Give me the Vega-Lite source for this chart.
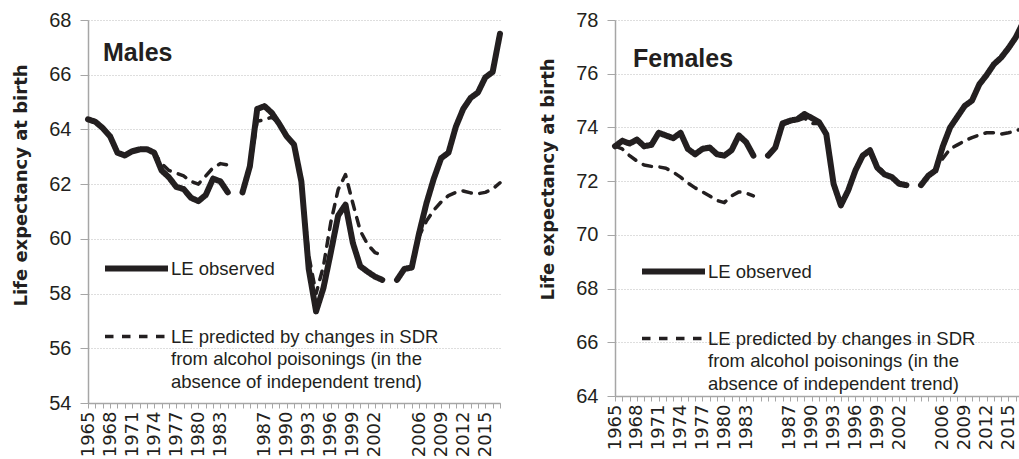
{
"$schema": "https://vega.github.io/schema/vega-lite/v6.json",
"background": "white",
"padding": {"left": 12, "top": 10, "right": 0, "bottom": 0},
"spacing": 30,
"config": {
  "view": {"stroke": null},
  "axisY": {"domainColor": "#a6a6a6", "domainWidth": 1.5, "tickColor": "#a6a6a6", "tickSize": 8, "labelFont": "Liberation Sans", "labelFontSize": 20, "labelColor": "#231f20", "labelPadding": 9, "gridColor": "#bdbdbd", "gridDash": [1, 2], "gridWidth": 1, "titleFont": "DejaVu Sans", "titleFontSize": 18, "titleFontWeight": "bold", "titleColor": "#231f20", "titlePadding": 18},
  "axisX": {"labelAngle": -90, "labelFont": "DejaVu Sans", "labelFontSize": 18, "labelColor": "#231f20", "labelPadding": 3, "tickSize": 5, "tickColor": "#a6a6a6", "domainColor": "#a6a6a6", "domainWidth": 1.5, "grid": false, "labelOverlap": false}
},
"resolve": {"scale": {"strokeDash": "independent", "strokeWidth": "independent"}, "legend": {"strokeDash": "independent", "strokeWidth": "independent"}},
"datasets": {
"male": [
{"s":"obs","g":1,"c":"1965","v":64.37},{"s":"obs","g":1,"c":"1966","v":64.28},{"s":"obs","g":1,"c":"1967","v":64.05},{"s":"obs","g":1,"c":"1968","v":63.75},{"s":"obs","g":1,"c":"1969","v":63.15},{"s":"obs","g":1,"c":"1970","v":63.05},{"s":"obs","g":1,"c":"1971","v":63.2},{"s":"obs","g":1,"c":"1972","v":63.27},{"s":"obs","g":1,"c":"1973","v":63.28},{"s":"obs","g":1,"c":"1974","v":63.15},{"s":"obs","g":1,"c":"1975","v":62.5},{"s":"obs","g":1,"c":"1976","v":62.25},{"s":"obs","g":1,"c":"1977","v":61.9},{"s":"obs","g":1,"c":"1978","v":61.82},{"s":"obs","g":1,"c":"1979","v":61.5},{"s":"obs","g":1,"c":"1980","v":61.38},{"s":"obs","g":1,"c":"1981","v":61.6},{"s":"obs","g":1,"c":"1982","v":62.2},{"s":"obs","g":1,"c":"1983","v":62.1},{"s":"obs","g":1,"c":"1984","v":61.7},
{"s":"obs","g":2,"c":"1984b","v":61.7},{"s":"obs","g":2,"c":"1985","v":62.65},{"s":"obs","g":2,"c":"1986","v":64.75},{"s":"obs","g":2,"c":"1987","v":64.85},{"s":"obs","g":2,"c":"1988","v":64.6},{"s":"obs","g":2,"c":"1989","v":64.2},{"s":"obs","g":2,"c":"1990","v":63.75},{"s":"obs","g":2,"c":"1991","v":63.45},{"s":"obs","g":2,"c":"1992","v":62.1},{"s":"obs","g":2,"c":"1993","v":58.9},{"s":"obs","g":2,"c":"1994","v":57.35},{"s":"obs","g":2,"c":"1995","v":58.2},{"s":"obs","g":2,"c":"1996","v":59.5},{"s":"obs","g":2,"c":"1997","v":60.85},{"s":"obs","g":2,"c":"1998","v":61.25},{"s":"obs","g":2,"c":"1999","v":59.85},{"s":"obs","g":2,"c":"2000","v":59.0},{"s":"obs","g":2,"c":"2001","v":58.8},{"s":"obs","g":2,"c":"2002","v":58.62},{"s":"obs","g":2,"c":"2003","v":58.5},
{"s":"obs","g":3,"c":"2003b","v":58.5},{"s":"obs","g":3,"c":"2004","v":58.9},{"s":"obs","g":3,"c":"2005","v":58.95},{"s":"obs","g":3,"c":"2006","v":60.2},{"s":"obs","g":3,"c":"2007","v":61.3},{"s":"obs","g":3,"c":"2008","v":62.2},{"s":"obs","g":3,"c":"2009","v":62.95},{"s":"obs","g":3,"c":"2010","v":63.15},{"s":"obs","g":3,"c":"2011","v":64.1},{"s":"obs","g":3,"c":"2012","v":64.75},{"s":"obs","g":3,"c":"2013","v":65.15},{"s":"obs","g":3,"c":"2014","v":65.35},{"s":"obs","g":3,"c":"2015","v":65.9},{"s":"obs","g":3,"c":"2016","v":66.1},{"s":"obs","g":3,"c":"2017","v":67.5},
{"s":"pred","g":1,"c":"1965","v":64.37},{"s":"pred","g":1,"c":"1966","v":64.28},{"s":"pred","g":1,"c":"1967","v":64.05},{"s":"pred","g":1,"c":"1968","v":63.75},{"s":"pred","g":1,"c":"1969","v":63.15},{"s":"pred","g":1,"c":"1970","v":63.05},{"s":"pred","g":1,"c":"1971","v":63.2},{"s":"pred","g":1,"c":"1972","v":63.27},{"s":"pred","g":1,"c":"1973","v":63.28},{"s":"pred","g":1,"c":"1974","v":63.15},{"s":"pred","g":1,"c":"1975","v":62.75},{"s":"pred","g":1,"c":"1976","v":62.5},{"s":"pred","g":1,"c":"1977","v":62.4},{"s":"pred","g":1,"c":"1978","v":62.3},{"s":"pred","g":1,"c":"1979","v":62.1},{"s":"pred","g":1,"c":"1980","v":62.0},{"s":"pred","g":1,"c":"1981","v":62.3},{"s":"pred","g":1,"c":"1982","v":62.6},{"s":"pred","g":1,"c":"1983","v":62.75},{"s":"pred","g":1,"c":"1984","v":62.7},
{"s":"pred","g":2,"c":"1984b","v":61.7},{"s":"pred","g":2,"c":"1985","v":62.6},{"s":"pred","g":2,"c":"1986","v":64.3},{"s":"pred","g":2,"c":"1987","v":64.35},{"s":"pred","g":2,"c":"1988","v":64.45},{"s":"pred","g":2,"c":"1989","v":64.2},{"s":"pred","g":2,"c":"1990","v":63.75},{"s":"pred","g":2,"c":"1991","v":63.45},{"s":"pred","g":2,"c":"1992","v":62.1},{"s":"pred","g":2,"c":"1993","v":59.4},{"s":"pred","g":2,"c":"1994","v":58.0},{"s":"pred","g":2,"c":"1995","v":59.0},{"s":"pred","g":2,"c":"1996","v":60.6},{"s":"pred","g":2,"c":"1997","v":61.8},{"s":"pred","g":2,"c":"1998","v":62.35},{"s":"pred","g":2,"c":"1999","v":61.3},{"s":"pred","g":2,"c":"2000","v":60.3},{"s":"pred","g":2,"c":"2001","v":59.8},{"s":"pred","g":2,"c":"2002","v":59.5},{"s":"pred","g":2,"c":"2003","v":59.4},
{"s":"pred","g":3,"c":"2003b","v":58.5},{"s":"pred","g":3,"c":"2004","v":58.9},{"s":"pred","g":3,"c":"2005","v":58.95},{"s":"pred","g":3,"c":"2006","v":60.1},{"s":"pred","g":3,"c":"2007","v":60.65},{"s":"pred","g":3,"c":"2008","v":61.05},{"s":"pred","g":3,"c":"2009","v":61.35},{"s":"pred","g":3,"c":"2010","v":61.58},{"s":"pred","g":3,"c":"2011","v":61.7},{"s":"pred","g":3,"c":"2012","v":61.75},{"s":"pred","g":3,"c":"2013","v":61.68},{"s":"pred","g":3,"c":"2014","v":61.65},{"s":"pred","g":3,"c":"2015","v":61.7},{"s":"pred","g":3,"c":"2016","v":61.82},{"s":"pred","g":3,"c":"2017","v":62.05}
],
"female": [
{"s":"obs","g":1,"c":"1965","v":73.3},{"s":"obs","g":1,"c":"1966","v":73.5},{"s":"obs","g":1,"c":"1967","v":73.4},{"s":"obs","g":1,"c":"1968","v":73.55},{"s":"obs","g":1,"c":"1969","v":73.3},{"s":"obs","g":1,"c":"1970","v":73.35},{"s":"obs","g":1,"c":"1971","v":73.8},{"s":"obs","g":1,"c":"1972","v":73.7},{"s":"obs","g":1,"c":"1973","v":73.6},{"s":"obs","g":1,"c":"1974","v":73.8},{"s":"obs","g":1,"c":"1975","v":73.2},{"s":"obs","g":1,"c":"1976","v":73.0},{"s":"obs","g":1,"c":"1977","v":73.2},{"s":"obs","g":1,"c":"1978","v":73.25},{"s":"obs","g":1,"c":"1979","v":73.0},{"s":"obs","g":1,"c":"1980","v":72.95},{"s":"obs","g":1,"c":"1981","v":73.15},{"s":"obs","g":1,"c":"1982","v":73.7},{"s":"obs","g":1,"c":"1983","v":73.45},{"s":"obs","g":1,"c":"1984","v":72.95},
{"s":"obs","g":2,"c":"1984b","v":72.95},{"s":"obs","g":2,"c":"1985","v":73.25},{"s":"obs","g":2,"c":"1986","v":74.15},{"s":"obs","g":2,"c":"1987","v":74.25},{"s":"obs","g":2,"c":"1988","v":74.3},{"s":"obs","g":2,"c":"1989","v":74.5},{"s":"obs","g":2,"c":"1990","v":74.35},{"s":"obs","g":2,"c":"1991","v":74.2},{"s":"obs","g":2,"c":"1992","v":73.75},{"s":"obs","g":2,"c":"1993","v":71.9},{"s":"obs","g":2,"c":"1994","v":71.1},{"s":"obs","g":2,"c":"1995","v":71.65},{"s":"obs","g":2,"c":"1996","v":72.4},{"s":"obs","g":2,"c":"1997","v":72.95},{"s":"obs","g":2,"c":"1998","v":73.15},{"s":"obs","g":2,"c":"1999","v":72.5},{"s":"obs","g":2,"c":"2000","v":72.25},{"s":"obs","g":2,"c":"2001","v":72.15},{"s":"obs","g":2,"c":"2002","v":71.9},{"s":"obs","g":2,"c":"2003","v":71.85},
{"s":"obs","g":3,"c":"2003b","v":71.85},{"s":"obs","g":3,"c":"2004","v":72.2},{"s":"obs","g":3,"c":"2005","v":72.4},{"s":"obs","g":3,"c":"2006","v":73.3},{"s":"obs","g":3,"c":"2007","v":74.0},{"s":"obs","g":3,"c":"2008","v":74.4},{"s":"obs","g":3,"c":"2009","v":74.8},{"s":"obs","g":3,"c":"2010","v":75.0},{"s":"obs","g":3,"c":"2011","v":75.6},{"s":"obs","g":3,"c":"2012","v":75.95},{"s":"obs","g":3,"c":"2013","v":76.35},{"s":"obs","g":3,"c":"2014","v":76.6},{"s":"obs","g":3,"c":"2015","v":76.95},{"s":"obs","g":3,"c":"2016","v":77.35},{"s":"obs","g":3,"c":"2017","v":77.9},
{"s":"pred","g":1,"c":"1965","v":73.3},{"s":"pred","g":1,"c":"1966","v":73.2},{"s":"pred","g":1,"c":"1967","v":72.95},{"s":"pred","g":1,"c":"1968","v":72.75},{"s":"pred","g":1,"c":"1969","v":72.6},{"s":"pred","g":1,"c":"1970","v":72.55},{"s":"pred","g":1,"c":"1971","v":72.53},{"s":"pred","g":1,"c":"1972","v":72.48},{"s":"pred","g":1,"c":"1973","v":72.33},{"s":"pred","g":1,"c":"1974","v":72.15},{"s":"pred","g":1,"c":"1975","v":71.93},{"s":"pred","g":1,"c":"1976","v":71.75},{"s":"pred","g":1,"c":"1977","v":71.6},{"s":"pred","g":1,"c":"1978","v":71.45},{"s":"pred","g":1,"c":"1979","v":71.28},{"s":"pred","g":1,"c":"1980","v":71.2},{"s":"pred","g":1,"c":"1981","v":71.45},{"s":"pred","g":1,"c":"1982","v":71.6},{"s":"pred","g":1,"c":"1983","v":71.56},{"s":"pred","g":1,"c":"1984","v":71.45},
{"s":"pred","g":2,"c":"1984b","v":72.95},{"s":"pred","g":2,"c":"1985","v":73.25},{"s":"pred","g":2,"c":"1986","v":74.1},{"s":"pred","g":2,"c":"1987","v":74.2},{"s":"pred","g":2,"c":"1988","v":74.25},{"s":"pred","g":2,"c":"1989","v":74.35},{"s":"pred","g":2,"c":"1990","v":74.15},{"s":"pred","g":2,"c":"1991","v":74.15},{"s":"pred","g":2,"c":"1992","v":73.7},{"s":"pred","g":2,"c":"1993","v":71.95},{"s":"pred","g":2,"c":"1994","v":71.15},{"s":"pred","g":2,"c":"1995","v":71.7},{"s":"pred","g":2,"c":"1996","v":72.45},{"s":"pred","g":2,"c":"1997","v":72.95},{"s":"pred","g":2,"c":"1998","v":73.0},{"s":"pred","g":2,"c":"1999","v":72.65},{"s":"pred","g":2,"c":"2000","v":72.25},{"s":"pred","g":2,"c":"2001","v":72.15},{"s":"pred","g":2,"c":"2002","v":71.9},{"s":"pred","g":2,"c":"2003","v":71.85},
{"s":"pred","g":3,"c":"2003b","v":71.85},{"s":"pred","g":3,"c":"2004","v":72.2},{"s":"pred","g":3,"c":"2005","v":72.45},{"s":"pred","g":3,"c":"2006","v":72.85},{"s":"pred","g":3,"c":"2007","v":73.2},{"s":"pred","g":3,"c":"2008","v":73.35},{"s":"pred","g":3,"c":"2009","v":73.5},{"s":"pred","g":3,"c":"2010","v":73.62},{"s":"pred","g":3,"c":"2011","v":73.72},{"s":"pred","g":3,"c":"2012","v":73.8},{"s":"pred","g":3,"c":"2013","v":73.8},{"s":"pred","g":3,"c":"2014","v":73.75},{"s":"pred","g":3,"c":"2015","v":73.8},{"s":"pred","g":3,"c":"2016","v":73.88},{"s":"pred","g":3,"c":"2017","v":73.95}
]
},
"hconcat": [
{
  "width": 412, "height": 383,
  "data": {"name": "male"},
  "title": {"text": "Males", "anchor": "start", "orient": "top", "frame": "group", "offset": -76, "dx": 15, "baseline": "alphabetic", "font": "Liberation Sans", "fontSize": 25, "fontWeight": "bold", "color": "#231f20"},
  "mark": {"type": "line", "color": "#231f20", "strokeCap": "round", "strokeJoin": "round"},
  "encoding": {
    "x": {"field": "c", "type": "ordinal", "sort": null, "scale": {"type": "point", "padding": 0, "domain": ["1965","1966","1967","1968","1969","1970","1971","1972","1973","1974","1975","1976","1977","1978","1979","1980","1981","1982","1983","1984","g1","1984b","1985","1986","1987","1988","1989","1990","1991","1992","1993","1994","1995","1996","1997","1998","1999","2000","2001","2002","2003","g2","2003b","2004","2005","2006","2007","2008","2009","2010","2011","2012","2013","2014","2015","2016","2017"]},
      "axis": {"title": null, "labelExpr": "indexof(['1965','1968','1971','1974','1977','1980','1983','1987','1990','1993','1996','1999','2002','2006','2009','2012','2015'], datum.value) >= 0 ? datum.value : ''"}},
    "y": {"field": "v", "type": "quantitative", "scale": {"domain": [54, 68], "nice": false, "zero": false}, "axis": {"values": [54, 56, 58, 60, 62, 64, 66, 68], "title": "Life expectancy at birth", "titleY": 165}},
    "strokeDash": {"field": "s", "type": "nominal", "scale": {"domain": ["obs", "pred"], "range": [[1, 0], [8.5, 8.5]]},
      "legend": {"orient": "none", "legendX": 14, "legendY": 214, "title": null, "padding": 0, "symbolType": "stroke", "symbolSize": 3969, "symbolStrokeColor": "#231f20", "labelExpr": "datum.value == 'obs' ? 'LE observed' : ['LE predicted by changes in SDR', 'from alcohol poisonings (in the', 'absence of independent trend)']", "labelFont": "Liberation Sans", "labelFontSize": 18.5, "labelColor": "#231f20", "labelOffset": 0, "labelLimit": 0, "rowPadding": 22, "encode": {"labels": {"update": {"lineHeight": {"value": 22.5}}}}}},
    "strokeWidth": {"field": "s", "type": "nominal", "scale": {"type": "ordinal", "domain": ["obs", "pred"], "range": [6, 3.5]}},
    "detail": {"field": "g", "type": "nominal"}
  }
},
{
  "width": 408, "height": 376,
  "data": {"name": "female"},
  "title": {"text": "Females", "anchor": "start", "orient": "top", "frame": "group", "offset": -82, "dx": 18, "baseline": "alphabetic", "font": "Liberation Sans", "fontSize": 25, "fontWeight": "bold", "color": "#231f20"},
  "mark": {"type": "line", "color": "#231f20", "strokeCap": "round", "strokeJoin": "round"},
  "encoding": {
    "x": {"field": "c", "type": "ordinal", "sort": null, "scale": {"type": "point", "padding": 0, "domain": ["1965","1966","1967","1968","1969","1970","1971","1972","1973","1974","1975","1976","1977","1978","1979","1980","1981","1982","1983","1984","g1","1984b","1985","1986","1987","1988","1989","1990","1991","1992","1993","1994","1995","1996","1997","1998","1999","2000","2001","2002","2003","g2","2003b","2004","2005","2006","2007","2008","2009","2010","2011","2012","2013","2014","2015","2016","2017"]},
      "axis": {"title": null, "labelExpr": "indexof(['1965','1968','1971','1974','1977','1980','1983','1987','1990','1993','1996','1999','2002','2006','2009','2012','2015'], datum.value) >= 0 ? datum.value : ''"}},
    "y": {"field": "v", "type": "quantitative", "scale": {"domain": [64, 78], "nice": false, "zero": false}, "axis": {"values": [64, 66, 68, 70, 72, 74, 76, 78], "title": "Life expectancy at birth", "titleY": 159}},
    "strokeDash": {"field": "s", "type": "nominal", "scale": {"domain": ["obs", "pred"], "range": [[1, 0], [8.5, 8.5]]},
      "legend": {"orient": "none", "legendX": 24, "legendY": 217, "title": null, "padding": 0, "symbolType": "stroke", "symbolSize": 3969, "symbolStrokeColor": "#231f20", "labelExpr": "datum.value == 'obs' ? 'LE observed' : ['LE predicted by changes in SDR', 'from alcohol poisonings (in the', 'absence of independent trend)']", "labelFont": "Liberation Sans", "labelFontSize": 18.5, "labelColor": "#231f20", "labelOffset": 0, "labelLimit": 0, "rowPadding": 21, "encode": {"labels": {"update": {"lineHeight": {"value": 22.5}}}}}},
    "strokeWidth": {"field": "s", "type": "nominal", "scale": {"type": "ordinal", "domain": ["obs", "pred"], "range": [6, 3.5]}},
    "detail": {"field": "g", "type": "nominal"}
  }
}
]
}
